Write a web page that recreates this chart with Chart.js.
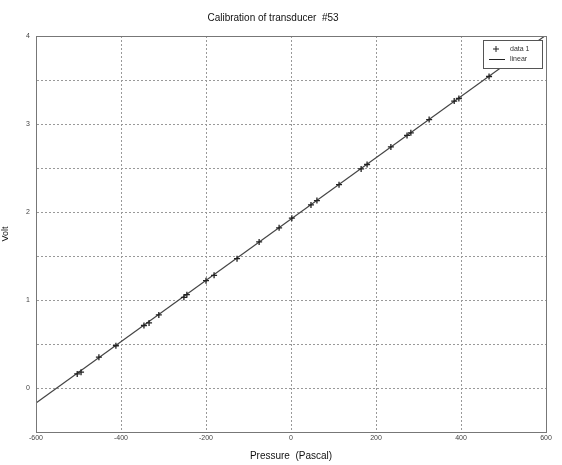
<!DOCTYPE html>
<html>
<head>
<meta charset="utf-8">
<script src="https://cdn.jsdelivr.net/npm/chart.js@4/dist/chart.umd.min.js"></script>
<style>
  html, body { margin: 0; padding: 0; background: #fff; }
  #wrap { width: 562px; height: 465px; }
</style>
</head>
<body>
<div id="wrap"><canvas id="myChart"></canvas></div>
<script>
// measured points (Pa, V)
let pressure = [-503, -494, -452, -412, -346, -334, -311, -252, -245, -200, -181, -127, -75, -28, 2, 47, 61, 113, 165, 179, 235, 273, 282, 325, 384, 395, 466];
let volt = [0.16, 0.18, 0.35, 0.48, 0.71, 0.74, 0.83, 1.03, 1.06, 1.22, 1.28, 1.47, 1.66, 1.82, 1.93, 2.08, 2.13, 2.31, 2.49, 2.54, 2.74, 2.87, 2.90, 3.05, 3.26, 3.29, 3.54];
// fitted line end points
let fitX = [-600, 600];
let fitY = [-0.17, 4.01];
let xTicks = [-600, -400, -200, 0, 200, 400, 600];
let yTickLabels = ['0', '1', '2', '3', '4'];
let legendLabels = ['data 1', 'linear'];

let font = "'Liberation Sans', Arial, sans-serif";
Chart.defaults.font.family = font;
Chart.defaults.color = '#333';

const legendBox = {
	id: 'legendBox',
	afterDraw(chart) {
		const ctx = chart.ctx;
		const a = chart.chartArea;
		const w = 59, h = 28;
		const x = a.right - w - 4, y = a.top + 4;
		ctx.save();
		ctx.fillStyle = '#fff';
		ctx.fillRect(x, y, w, h);
		ctx.strokeStyle = '#555';
		ctx.lineWidth = 1;
		ctx.strokeRect(x + 0.5, y + 0.5, w, h);
		ctx.font = '7px ' + font;
		ctx.fillStyle = '#333';
		ctx.textBaseline = 'middle';
		// marker row
		ctx.strokeStyle = '#222';
		ctx.beginPath();
		ctx.moveTo(x + 10, y + 9); ctx.lineTo(x + 16, y + 9);
		ctx.moveTo(x + 13, y + 6); ctx.lineTo(x + 13, y + 12);
		ctx.stroke();
		ctx.fillText(legendLabels[0], x + 27, y + 9);
		// line row
		ctx.beginPath();
		ctx.moveTo(x + 6, y + 19.5); ctx.lineTo(x + 22, y + 19.5);
		ctx.stroke();
		ctx.fillText(legendLabels[1], x + 27, y + 19);
		ctx.restore();
	}
};

let ctx = document.getElementById('myChart').getContext('2d');
let myChart = new Chart(ctx, {
	type: 'scatter',
	data: {
		datasets: [{
			label: legendLabels[0],
			data: pressure.map((p, i) => ({x: p, y: volt[i]})),
			pointStyle: 'cross',
			pointRadius: 3,
			borderColor: '#222',
			borderWidth: 1.3,
			backgroundColor: '#222',
			order: 1
		}, {
			label: legendLabels[1],
			type: 'line',
			data: fitX.map((p, i) => ({x: p, y: fitY[i]})),
			borderColor: '#444',
			borderWidth: 1.2,
			pointRadius: 0,
			fill: false,
			order: 2
		}]
	},
	options: {
		responsive: true,
		maintainAspectRatio: false,
		animation: false,
		layout: { padding: { left: 0, right: 16, top: 0, bottom: 0 } },
		plugins: {
			legend: { display: false },
			tooltip: { enabled: false },
			title: {
				display: true,
				text: 'Calibration of transducer  #53',
				font: { size: 10, weight: 'normal' },
				color: '#111',
				padding: { top: 12, bottom: 12 }
			}
		},
		scales: {
			x: {
				type: 'linear',
				min: -600,
				max: 600,
				afterBuildTicks: (axis) => { axis.ticks = xTicks.map(v => ({value: v})); },
				afterFit: (axis) => { axis.height = 33; },
				ticks: { font: { size: 7 }, color: '#444', maxRotation: 0, padding: 2 },
				grid: { color: '#999', drawTicks: false },
				border: { display: true, color: '#666', dash: [2, 2] },
				title: { display: true, text: 'Pressure  (Pascal)', font: { size: 10 }, color: '#111', padding: { top: 0, bottom: 3 } }
			},
			y: {
				min: -0.5,
				max: 4,
				afterFit: (axis) => { axis.width = 36; },
				ticks: {
					stepSize: 0.5,
					font: { size: 7 },
					color: '#444',
					padding: 6,
					callback: (v) => Number.isInteger(v) && v >= 0 ? yTickLabels[v] : ''
				},
				grid: { color: '#999', drawTicks: false },
				border: { display: true, color: '#666', dash: [2, 2] },
				title: { display: true, text: 'Volt', font: { size: 9 }, color: '#111', padding: { top: 0, bottom: 2 } }
			}
		}
	},
	plugins: [legendBox, {
		id: 'frame',
		afterDraw(chart) {
			const c = chart.ctx, a = chart.chartArea;
			c.save();
			c.strokeStyle = '#777';
			c.lineWidth = 1;
			c.strokeRect(a.left + 0.5, a.top + 0.5, a.right - a.left, a.bottom - a.top);
			c.restore();
		}
	}]
});
</script>
</body>
</html>
